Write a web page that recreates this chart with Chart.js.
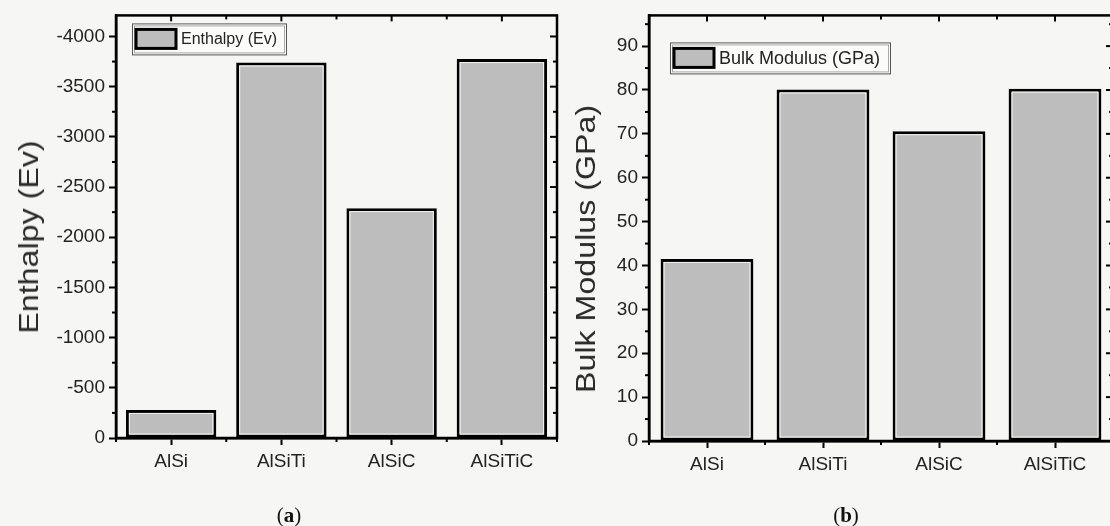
<!DOCTYPE html>
<html>
<head>
<meta charset="utf-8">
<script src="https://cdn.jsdelivr.net/npm/chart.js@4.4.1/dist/chart.umd.min.js"></script>
<style>
  body {
    margin: 0;
    width: 1110px;
    height: 526px;
    overflow: hidden;
    position: relative;
    background: #f6f6f4;
    font-family: "Liberation Sans", Arial, sans-serif;
  }
  .panel { position: absolute; top: 0; height: 526px; }
  #panelA { left: 0; width: 565px; }
  #panelB { left: 565px; width: 550px; }
  .ytitle {
    position: absolute;
    white-space: nowrap;
    font-size: 28px;
    color: #2a2a2a;
    transform: translate(-50%, -50%) rotate(-90deg) scaleX(1.15);
  }
  .cap {
    position: absolute;
    font-family: "Liberation Serif", "DejaVu Serif", serif;
    font-size: 21px;
    color: #111;
    transform: translate(-50%, -50%);
  }
</style>
</head>
<body>
<div class="panel" id="panelA"><canvas id="chartA"></canvas></div>
<div class="panel" id="panelB"><canvas id="chartB"></canvas></div>
<div class="ytitle" style="left:29px;top:237px">Enthalpy (Ev)</div>
<div class="ytitle" style="left:586px;top:249px">Bulk Modulus (GPa)</div>
<div class="cap" style="left:289px;top:515px">(<b>a</b>)</div>
<div class="cap" style="left:846px;top:515px">(<b>b</b>)</div>

<script>
const categories = ["AlSi", "AlSiTi", "AlSiC", "AlSiTiC"];
const enthalpy = [-280, -3740, -2290, -3775];
const bulkModulus = [41.5, 80.1, 70.6, 80.3];
const enthalpyTicks = [0, -500, -1000, -1500, -2000, -2500, -3000, -3500, -4000];
const bulkTicks = [0, 10, 20, 30, 40, 50, 60, 70, 80, 90];

const BLACK = "#000";
const BAR_GRAY = "#bdbdbd";
const TEXT = "#222";

// legend box drawn inside the plot, like the Origin export
const boxLegend = {
  id: "boxLegend",
  afterDraw(chart, args, opts) {
    const { ctx, chartArea } = chart;
    const x = chartArea.left + opts.dx;
    const y = chartArea.top + opts.dy;
    ctx.save();
    ctx.fillStyle = "#fbfbfa";
    ctx.fillRect(x, y, opts.w, opts.h);
    ctx.lineWidth = 1;
    ctx.strokeStyle = "#555";
    ctx.strokeRect(x + 0.5, y + 0.5, opts.w, opts.h);
    ctx.strokeStyle = "#aaa";
    ctx.strokeRect(x + 2.5, y + 2.5, opts.w - 4, opts.h - 4);
    // swatch
    ctx.fillStyle = BAR_GRAY;
    ctx.fillRect(x + 4, y + 6, 40, 19);
    ctx.lineWidth = 3;
    ctx.strokeStyle = BLACK;
    ctx.strokeRect(x + 4, y + 6, 40, 19);
    ctx.fillStyle = TEXT;
    ctx.font = opts.size + 'px "Liberation Sans", Arial, sans-serif';
    ctx.textBaseline = "middle";
    ctx.fillText(chart.data.datasets[0].label, x + 49, y + opts.h / 2 + 1);
    ctx.restore();
  },
};

// frame, minor ticks and mirrored ticks; inner white line on bars
const frameTicks = {
  id: "frameTicks",
  afterDatasetsDraw(chart, args, opts) {
    const { ctx, chartArea: a } = chart;
    const x = chart.scales.x;
    const y = chart.scales.y;
    ctx.save();

    chart.getDatasetMeta(0).data.forEach((bar) => {
      const top = Math.min(bar.y, bar.base);
      const h = Math.abs(bar.base - bar.y);
      ctx.strokeStyle = "#f2f2f2";
      ctx.lineWidth = 1;
      ctx.strokeRect(bar.x - bar.width / 2 + 3.5, top + 3.5, bar.width - 7, h - 7);
    });

    const line = (x1, y1, x2, y2) => {
      ctx.beginPath();
      ctx.moveTo(x1, y1);
      ctx.lineTo(x2, y2);
      ctx.stroke();
    };
    ctx.strokeStyle = BLACK;
    ctx.lineWidth = 2;

    const step = opts.minor;
    const lo = Math.min(y.min, y.max);
    const hi = Math.max(y.min, y.max);
    for (let v = Math.ceil(lo / step) * step; v <= hi; v += step) {
      const py = y.getPixelForValue(v);
      const major = Math.abs(v % (2 * step)) < 1e-6;
      if (major) {
        line(a.right, py, a.right - 7, py);
      } else {
        line(a.left - 4, py, a.left, py);
        line(a.right, py, a.right - 4, py);
      }
    }

    categories.forEach((c, i) => {
      const px = x.getPixelForValue(i);
      line(px, a.top, px, a.top + 6);
    });
    for (let i = -0.5; i <= categories.length - 0.5; i += 1) {
      const px = x.getPixelForValue(i);
      line(px, a.bottom, px, a.bottom + 4);
      line(px, a.top, px, a.top + 4);
    }

    ctx.lineWidth = 2.5;
    ctx.strokeRect(a.left, a.top, a.width, a.height);
    ctx.restore();
  },
};

function makeChart(id, label, data, yOpts, tickValues, layout, legendOpts, minor, barPct, yWidth) {
  return new Chart(document.getElementById(id), {
    type: "bar",
    data: {
      labels: categories,
      datasets: [
        {
          label: label,
          data: data,
          backgroundColor: BAR_GRAY,
          borderColor: BLACK,
          borderWidth: 3,
          borderSkipped: false,
          barPercentage: barPct,
          categoryPercentage: 1,
        },
      ],
    },
    options: {
      responsive: true,
      maintainAspectRatio: false,
      animation: false,
      layout: { padding: layout },
      plugins: {
        legend: { display: false },
        tooltip: { enabled: false },
        boxLegend: legendOpts,
        frameTicks: { minor: minor },
      },
      scales: {
        x: {
          offset: true,
          grid: {
            display: true,
            drawOnChartArea: false,
            offset: false,
            tickLength: 7,
            tickWidth: 2,
            tickColor: BLACK,
          },
          border: { display: true, color: BLACK, width: 2.5 },
          ticks: {
            color: TEXT,
            padding: 5,
            font: { size: 19, family: '"Liberation Sans", Arial, sans-serif' },
          },
          afterFit(scale) {
            scale.height = 50;
          },
        },
        y: Object.assign(
          {
            grid: {
              drawOnChartArea: false,
              tickLength: 7,
              tickWidth: 2,
              tickColor: BLACK,
            },
            border: { display: true, color: BLACK, width: 2.5 },
            ticks: {
              color: TEXT,
              padding: 4,
              font: { size: 19, family: '"Liberation Sans", Arial, sans-serif' },
              callback: (v) => String(v),
            },
            afterBuildTicks(scale) {
              scale.ticks = tickValues.map((v) => ({ value: v }));
            },
            afterFit(scale) {
              scale.width = yWidth;
            },
          },
          yOpts
        ),
      },
    },
    plugins: [frameTicks, boxLegend],
  });
}

makeChart(
  "chartA",
  "Enthalpy (Ev)",
  enthalpy,
  { reverse: true, min: -4210, max: 0 },
  enthalpyTicks,
  { left: 0, top: 14, right: 8, bottom: 38 },
  { dx: 16, dy: 8, w: 154, h: 31, size: 16 },
  250,
  0.82,
  116
);

makeChart(
  "chartB",
  "Bulk Modulus (GPa)",
  bulkModulus,
  { min: 0, max: 97 },
  bulkTicks,
  { left: 0, top: 12, right: 2, bottom: 35 },
  { dx: 21, dy: 27, w: 220, h: 31, size: 18 },
  5,
  0.8,
  84
);
</script>
</body>
</html>
